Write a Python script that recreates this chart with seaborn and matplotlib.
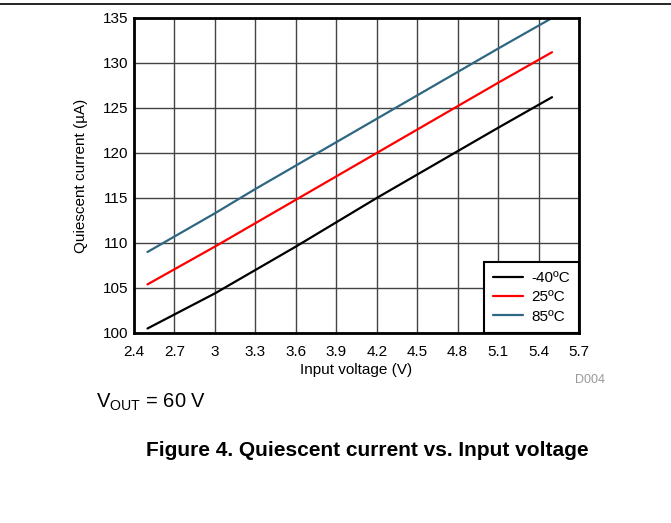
import numpy as np
import pandas as pd
import matplotlib
matplotlib.use("Agg")
import matplotlib.pyplot as plt
from matplotlib.lines import Line2D
import seaborn as sns

# values
vin = [2.5, 3.0, 3.3, 3.6, 3.9, 4.2, 4.5, 4.8, 5.1, 5.5]
iq_m40 = [100.5, 104.4, 107.0, 109.6, 112.3, 115.0, 117.6, 120.2, 122.8, 126.2]
iq_25 = [105.4, 109.6, 112.2, 114.8, 117.4, 120.0, 122.6, 125.2, 127.8, 131.2]
iq_85 = [109.0, 113.3, 116.0, 118.6, 121.2, 123.8, 126.4, 129.0, 131.6, 135.0]
temps = ["-40ºC", "25ºC", "85ºC"]
colors = ["#000000", "#ff0000", "#2e6782"]
xticks = [2.4, 2.7, 3, 3.3, 3.6, 3.9, 4.2, 4.5, 4.8, 5.1, 5.4, 5.7]
yticks = [100, 105, 110, 115, 120, 125, 130, 135]

df = pd.concat([
    pd.DataFrame({"vin": vin, "iq": vals, "temp": t})
    for t, vals in zip(temps, [iq_m40, iq_25, iq_85])
])

sns.set_style("white")
plt.rcParams["font.family"] = ["Liberation Sans", "DejaVu Sans"]
plt.rcParams["text.color"] = "black"
plt.rcParams["axes.labelcolor"] = "black"

fig = plt.figure(figsize=(6.71, 5.23), dpi=100)
ax = fig.add_axes([0.1997, 0.3633, 0.6632, 0.6023])

sns.lineplot(data=df, x="vin", y="iq", hue="temp", hue_order=temps,
             palette=colors, linewidth=1.6, ax=ax, legend=False)

ax.set_xlim(2.4, 5.7)
ax.set_ylim(100, 135)
ax.set_xticks(xticks)
ax.set_xticklabels([f"{t:g}" for t in xticks])
ax.set_yticks(yticks)
ax.grid(True, color="#444444", linewidth=1.0)
ax.set_axisbelow(True)
for s in ax.spines.values():
    s.set_color("black")
    s.set_linewidth(2)
ax.tick_params(axis="both", labelsize=11, length=0, colors="black")
ax.tick_params(axis="x", pad=9)
ax.tick_params(axis="y", pad=4)
ax.set_xlabel("Input voltage (V)", fontsize=11, labelpad=2.5, color="black")
ax.set_ylabel("Quiescent current (µA)", fontsize=11, labelpad=11, color="black")

handles = [Line2D([0], [0], color=c, linewidth=1.6) for c in colors]
leg = ax.legend(handles, temps, loc="lower right", fontsize=11,
                frameon=True, fancybox=False, borderaxespad=0,
                handlelength=2.0, handletextpad=0.5, labelspacing=0.35,
                borderpad=0.6)
leg.get_frame().set_edgecolor("black")
leg.get_frame().set_linewidth(1.5)
leg.get_frame().set_alpha(1)
for t in leg.get_texts():
    t.set_color("black")

fig.add_artist(Line2D([0, 1], [0.992, 0.992], color="black", linewidth=1.2,
                      transform=fig.transFigure))
fig.text(0.857, 0.273, "D004", fontsize=9, color="#999999", ha="left", va="center")
fig.text(0.143, 0.231, r"V$_{\mathregular{OUT}}$ = 60 V", fontsize=14.5,
         color="black", ha="left", va="center")
fig.text(0.548, 0.139, "Figure 4. Quiescent current vs. Input voltage",
         fontsize=15, fontweight="bold", color="black", ha="center", va="center")

fig.savefig("out.png", dpi=100)
